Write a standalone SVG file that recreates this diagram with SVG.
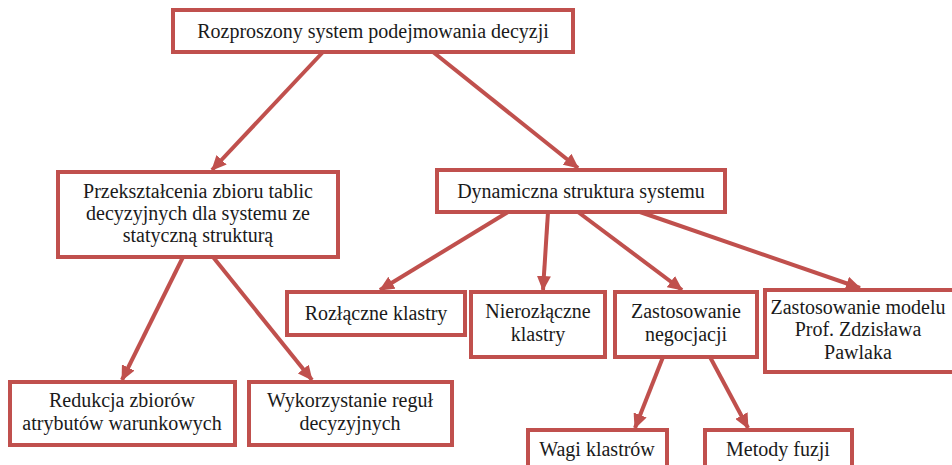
<svg xmlns="http://www.w3.org/2000/svg" width="952" height="465" viewBox="0 0 952 465">
<style>
.box{fill:#fff;stroke:#c0504d;stroke-width:4}
.t{font-family:"Liberation Serif","Times New Roman",serif;font-size:20px;fill:#1a1a1a;text-anchor:middle}
.c{stroke:#c0504d;stroke-width:4;fill:none;marker-end:url(#ah)}
</style>
<defs>
<marker id="ah" markerUnits="userSpaceOnUse" markerWidth="16" markerHeight="14" refX="14" refY="7" orient="auto">
<path d="M0,0 L15,7 L0,14 z" fill="#c0504d"/>
</marker>
</defs>
<rect width="952" height="465" fill="#fff"/>
<g id="connectors">
<line class="c" x1="323" y1="52" x2="212" y2="170"/>
<line class="c" x1="433" y1="52" x2="578" y2="168"/>
<line class="c" x1="183" y1="257" x2="122" y2="380"/>
<line class="c" x1="213" y1="257" x2="312" y2="380"/>
<line class="c" x1="508" y1="212" x2="380" y2="290"/>
<line class="c" x1="548" y1="212" x2="543" y2="290"/>
<line class="c" x1="578" y1="212" x2="682" y2="290"/>
<line class="c" x1="640" y1="212" x2="860" y2="288"/>
<line class="c" x1="663" y1="357" x2="635" y2="428"/>
<line class="c" x1="710" y1="357" x2="748" y2="428"/>
</g>
<g id="n-root">
<rect class="box" x="173" y="10" width="400" height="42"/>
<text class="t" x="373" y="38">Rozproszony system podejmowania decyzji</text>
</g>
<g id="n-static">
<rect class="box" x="58" y="172" width="280" height="85"/>
<text class="t" x="198" y="198">Przekształcenia zbioru tablic</text>
<text class="t" x="198" y="220">decyzyjnych dla systemu ze</text>
<text class="t" x="198" y="242">statyczną strukturą</text>
</g>
<g id="n-dynamic">
<rect class="box" x="437" y="170" width="288" height="42"/>
<text class="t" x="581" y="198">Dynamiczna struktura systemu</text>
</g>
<g id="n-rozl">
<rect class="box" x="287" y="292" width="178" height="43"/>
<text class="t" x="376" y="320">Rozłączne klastry</text>
</g>
<g id="n-nieroz">
<rect class="box" x="471" y="292" width="134" height="65"/>
<text class="t" x="538" y="318">Nierozłączne</text>
<text class="t" x="538" y="341">klastry</text>
</g>
<g id="n-negoc">
<rect class="box" x="615" y="292" width="142" height="65"/>
<text class="t" x="686" y="318">Zastosowanie</text>
<text class="t" x="686" y="341">negocjacji</text>
</g>
<g id="n-pawlak">
<rect class="box" x="765" y="290" width="190" height="82"/>
<text class="t" x="858" y="314">Zastosowanie modelu</text>
<text class="t" x="858" y="336">Prof. Zdzisława</text>
<text class="t" x="858" y="359">Pawlaka</text>
</g>
<g id="n-redukcja">
<rect class="box" x="10" y="382" width="225" height="63"/>
<text class="t" x="122" y="407">Redukcja zbiorów</text>
<text class="t" x="122" y="430">atrybutów warunkowych</text>
</g>
<g id="n-reguly">
<rect class="box" x="249" y="382" width="203" height="63"/>
<text class="t" x="350" y="407">Wykorzystanie reguł</text>
<text class="t" x="350" y="430">decyzyjnych</text>
</g>
<g id="n-wagi">
<rect class="box" x="528" y="430" width="139" height="45"/>
<text class="t" x="597" y="456">Wagi klastrów</text>
</g>
<g id="n-fuzji">
<rect class="box" x="705" y="430" width="147" height="45"/>
<text class="t" x="778" y="456">Metody fuzji</text>
</g>
</svg>
